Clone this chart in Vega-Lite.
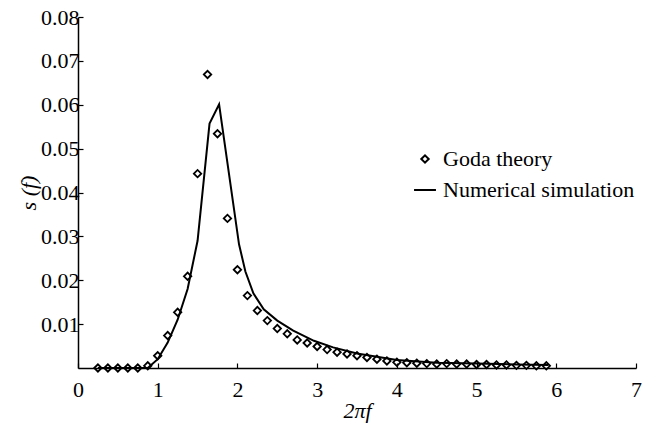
{
  "$schema": "https://vega.github.io/schema/vega-lite/v6.json",
  "width": 558,
  "height": 351,
  "autosize": "none",
  "padding": {"left": 78, "top": 17, "right": 18, "bottom": 65},
  "background": "white",
  "config": {
    "view": {"stroke": null},
    "font": "Liberation Serif",
    "axis": {"grid": false, "domainColor": "black", "domainWidth": 1.5, "tickColor": "black", "tickWidth": 1.2, "labelColor": "black", "titleColor": "black", "labelFont": "Liberation Serif", "titleFont": "Liberation Serif", "labelFontSize": 22, "titleFontSize": 22, "titleFontWeight": "normal"}
  },
  "datasets": {
    "goda": [
      {"w": 0.25, "s": 0}, {"w": 0.375, "s": 0}, {"w": 0.5, "s": 0}, {"w": 0.625, "s": 0}, {"w": 0.75, "s": 0},
      {"w": 0.875, "s": 0.0005}, {"w": 1.0, "s": 0.0028}, {"w": 1.125, "s": 0.0074}, {"w": 1.25, "s": 0.0127}, {"w": 1.375, "s": 0.0209},
      {"w": 1.5, "s": 0.0443}, {"w": 1.625, "s": 0.0669}, {"w": 1.75, "s": 0.0534}, {"w": 1.875, "s": 0.0341}, {"w": 2.0, "s": 0.0224},
      {"w": 2.125, "s": 0.0165}, {"w": 2.25, "s": 0.0131}, {"w": 2.375, "s": 0.0108}, {"w": 2.5, "s": 0.009}, {"w": 2.625, "s": 0.0078},
      {"w": 2.75, "s": 0.0064}, {"w": 2.875, "s": 0.0057}, {"w": 3.0, "s": 0.0049}, {"w": 3.125, "s": 0.0042}, {"w": 3.25, "s": 0.0036},
      {"w": 3.375, "s": 0.0032}, {"w": 3.5, "s": 0.0028}, {"w": 3.625, "s": 0.0024}, {"w": 3.75, "s": 0.002}, {"w": 3.875, "s": 0.0016},
      {"w": 4.0, "s": 0.0013}, {"w": 4.125, "s": 0.0012}, {"w": 4.25, "s": 0.0011}, {"w": 4.375, "s": 0.001}, {"w": 4.5, "s": 0.0009},
      {"w": 4.625, "s": 0.001}, {"w": 4.75, "s": 0.0009}, {"w": 4.875, "s": 0.0009}, {"w": 5.0, "s": 0.0008}, {"w": 5.125, "s": 0.0008},
      {"w": 5.25, "s": 0.0007}, {"w": 5.375, "s": 0.0007}, {"w": 5.5, "s": 0.0006}, {"w": 5.625, "s": 0.0006}, {"w": 5.75, "s": 0.0005},
      {"w": 5.875, "s": 0.0005}
    ],
    "sim": [
      {"w": 0.25, "s": 0}, {"w": 0.875, "s": 0}, {"w": 1.0, "s": 0.002}, {"w": 1.125, "s": 0.0058}, {"w": 1.25, "s": 0.011},
      {"w": 1.375, "s": 0.018}, {"w": 1.5, "s": 0.029}, {"w": 1.65, "s": 0.0557}, {"w": 1.77, "s": 0.0601}, {"w": 2.02, "s": 0.0282},
      {"w": 2.1, "s": 0.022}, {"w": 2.2, "s": 0.017}, {"w": 2.33, "s": 0.0134}, {"w": 2.5, "s": 0.0108}, {"w": 2.7, "s": 0.0085},
      {"w": 2.96, "s": 0.0062}, {"w": 3.2, "s": 0.0047}, {"w": 3.5, "s": 0.0033}, {"w": 4.0, "s": 0.0018}, {"w": 4.5, "s": 0.0012},
      {"w": 5.0, "s": 0.001}, {"w": 5.5, "s": 0.0008}, {"w": 5.9, "s": 0.0007}
    ]
  },
  "layer": [
    {
      "data": {"name": "sim"},
      "mark": {"type": "line", "color": "black", "strokeWidth": 2},
      "encoding": {
        "x": {"field": "w", "type": "quantitative", "scale": {"domain": [0, 7]},
          "axis": {"title": "2πf", "titleFontStyle": "italic", "values": [0, 1, 2, 3, 4, 5, 6, 7], "format": "d", "tickSize": -5, "labelPadding": 16, "titlePadding": 0, "labelFlush": false, "labelFont": "Liberation Serif", "labelFontSize": 22}},
        "y": {"field": "s", "type": "quantitative", "scale": {"domain": [0, 0.08]},
          "axis": {"title": "s (f)", "titleFontStyle": "italic", "values": [0.01, 0.02, 0.03, 0.04, 0.05, 0.06, 0.07, 0.08], "format": ".2f", "tickSize": -5, "labelPadding": 4, "titlePadding": 0, "labelFlush": false, "labelFont": "Liberation Serif", "labelFontSize": 22}}
      }
    },
    {
      "data": {"name": "goda"},
      "transform": [{"calculate": "'Goda theory'", "as": "series"}],
      "mark": {"type": "point", "filled": false, "color": "black", "strokeWidth": 1.8, "opacity": 1},
      "encoding": {
        "x": {"field": "w", "type": "quantitative"},
        "y": {"field": "s", "type": "quantitative"},
        "shape": {"field": "series", "type": "nominal",
          "scale": {"domain": ["Goda theory", "Numerical simulation"], "range": ["diamond", "stroke"]},
          "legend": {"title": null, "orient": "none", "legendX": 335, "legendY": 131, "labelFontSize": 22, "labelFont": "Liberation Serif", "labelColor": "black", "labelLimit": 400, "rowPadding": 8, "labelOffset": 6, "symbolStrokeColor": "black", "symbolStrokeWidth": 2}
        },
        "size": {"field": "series", "type": "nominal",
          "scale": {"domain": ["Goda theory", "Numerical simulation"], "range": [55, 480]},
          "legend": {"title": null, "orient": "none", "legendX": 335, "legendY": 131, "labelFontSize": 22, "labelFont": "Liberation Serif", "labelColor": "black", "labelLimit": 400, "rowPadding": 8, "labelOffset": 6, "symbolStrokeColor": "black", "symbolStrokeWidth": 2}
        }
      }
    }
  ]
}
